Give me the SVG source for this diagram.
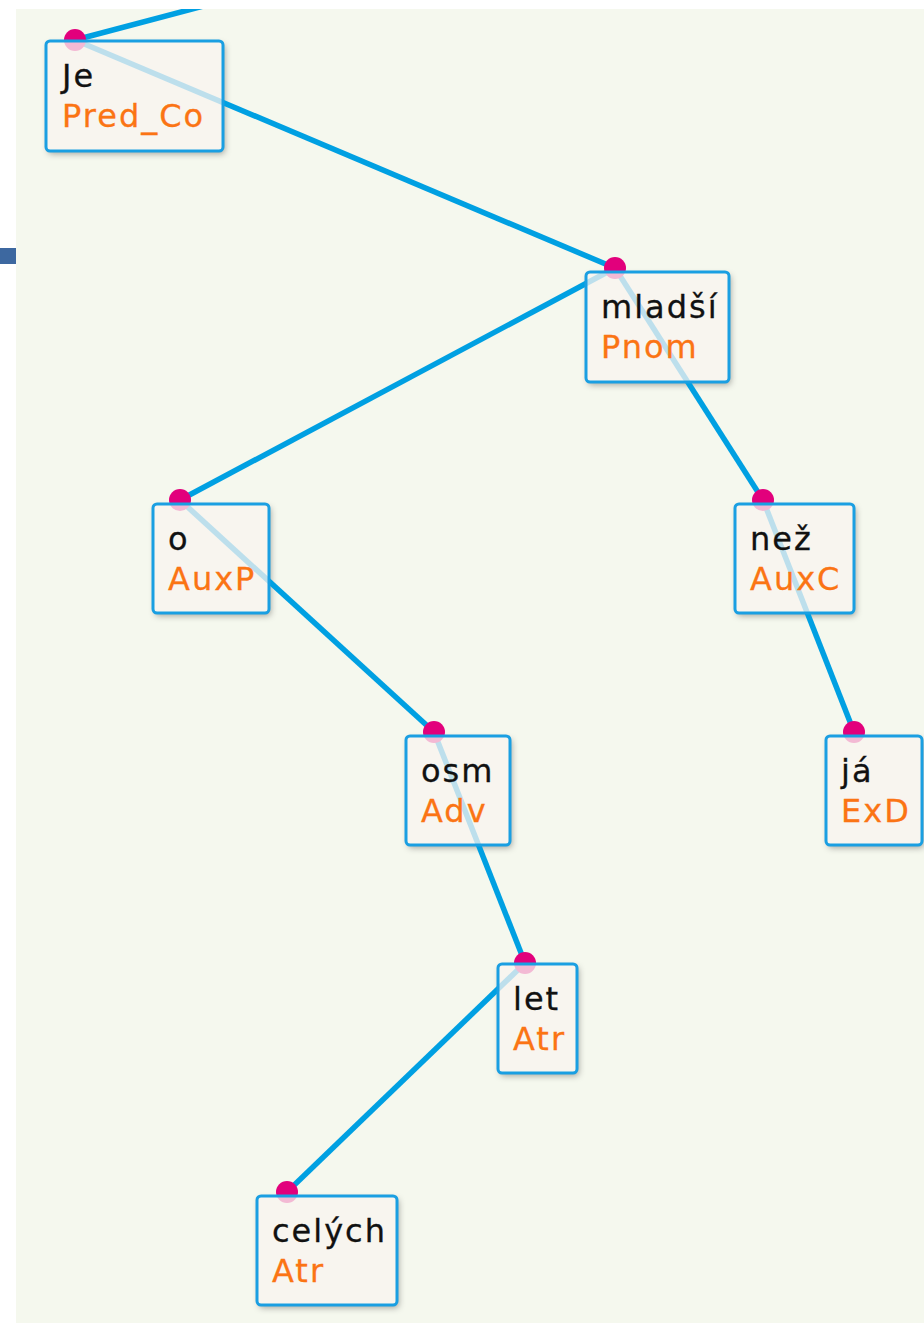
<svg xmlns="http://www.w3.org/2000/svg" width="924" height="1323" viewBox="0 0 924 1323">
  <defs>
    <clipPath id="view"><rect x="16" y="9" width="908" height="1314"/></clipPath>
    <filter id="blur" x="-20%" y="-20%" width="150%" height="150%">
      <feGaussianBlur stdDeviation="3"/>
    </filter>
    <style>
      .bg{fill:#f5f8ee}
      .edge{stroke:#00a0e2;stroke-width:5.5;fill:none;stroke-linecap:butt}
      .dot{fill:#e2007c}
      .shadow{fill:#000;fill-opacity:0.32;filter:url(#blur)}
      .box{fill:#f8f3ef;fill-opacity:0.76;stroke:#1a9fe2;stroke-width:3}
      .form{font-family:"DejaVu Sans","Noto Sans",sans-serif;font-size:32px;fill:#111;stroke:#111;stroke-width:0.3;letter-spacing:2px}
      .afun{font-family:"DejaVu Sans","Noto Sans",sans-serif;font-size:32px;fill:#fb7414;stroke:#fb7414;stroke-width:0.3;letter-spacing:2px}
    </style>
  </defs>
  <rect width="924" height="1323" fill="#ffffff"/>
  <rect x="0" y="248" width="16" height="16" fill="#3d68a0"/>
  <g clip-path="url(#view)">
    <rect class="bg" x="16" y="9" width="908" height="1314"/>
    <g id="shadows">
      <rect class="shadow" x="48" y="44" width="177" height="110" rx="4"/>
      <rect class="shadow" x="588" y="275" width="143" height="110" rx="4"/>
      <rect class="shadow" x="155" y="507" width="116" height="109" rx="4"/>
      <rect class="shadow" x="737" y="507" width="119" height="109" rx="4"/>
      <rect class="shadow" x="408" y="739" width="104" height="109" rx="4"/>
      <rect class="shadow" x="828" y="739" width="96" height="109" rx="4"/>
      <rect class="shadow" x="500" y="967" width="79" height="109" rx="4"/>
      <rect class="shadow" x="259" y="1199" width="140" height="109" rx="4"/>
    </g>
    <g id="cover">
      <rect class="bg" x="46" y="41" width="177" height="110" rx="4"/>
      <rect class="bg" x="586" y="272" width="143" height="110" rx="4"/>
      <rect class="bg" x="153" y="504" width="116" height="109" rx="4"/>
      <rect class="bg" x="735" y="504" width="119" height="109" rx="4"/>
      <rect class="bg" x="406" y="736" width="104" height="109" rx="4"/>
      <rect class="bg" x="826" y="736" width="96" height="109" rx="4"/>
      <rect class="bg" x="498" y="964" width="79" height="109" rx="4"/>
      <rect class="bg" x="257" y="1196" width="140" height="109" rx="4"/>
    </g>
    <g id="connectors">
      <line class="edge" x1="75" y1="40" x2="230" y2="-1"/>
      <line class="edge" x1="75" y1="40" x2="615" y2="268"/>
      <line class="edge" x1="615" y1="268" x2="180" y2="500"/>
      <line class="edge" x1="615" y1="268" x2="763" y2="500"/>
      <line class="edge" x1="180" y1="500" x2="434" y2="732"/>
      <line class="edge" x1="434" y1="732" x2="525" y2="963"/>
      <line class="edge" x1="525" y1="963" x2="287" y2="1192"/>
      <line class="edge" x1="763" y1="500" x2="854" y2="732"/>
    </g>
    <g id="dots">
      <circle class="dot" cx="75" cy="40" r="11"/>
      <circle class="dot" cx="615" cy="268" r="11"/>
      <circle class="dot" cx="180" cy="500" r="11"/>
      <circle class="dot" cx="763" cy="500" r="11"/>
      <circle class="dot" cx="434" cy="732" r="11"/>
      <circle class="dot" cx="854" cy="732" r="11"/>
      <circle class="dot" cx="525" cy="963" r="11"/>
      <circle class="dot" cx="287" cy="1192" r="11"/>
    </g>
    <g id="node-je">
      <rect class="box" x="46" y="41" width="177" height="110" rx="4"/>
      <text class="form" x="62" y="87">Je</text>
      <text class="afun" x="62" y="127">Pred_Co</text>
    </g>
    <g id="node-mladsi">
      <rect class="box" x="586" y="272" width="143" height="110" rx="4"/>
      <text class="form" x="601" y="318">mladší</text>
      <text class="afun" x="601" y="358">Pnom</text>
    </g>
    <g id="node-o">
      <rect class="box" x="153" y="504" width="116" height="109" rx="4"/>
      <text class="form" x="168" y="550">o</text>
      <text class="afun" x="168" y="590">AuxP</text>
    </g>
    <g id="node-nez">
      <rect class="box" x="735" y="504" width="119" height="109" rx="4"/>
      <text class="form" x="750" y="550">než</text>
      <text class="afun" x="750" y="590">AuxC</text>
    </g>
    <g id="node-osm">
      <rect class="box" x="406" y="736" width="104" height="109" rx="4"/>
      <text class="form" x="421" y="782">osm</text>
      <text class="afun" x="421" y="822">Adv</text>
    </g>
    <g id="node-ja">
      <rect class="box" x="826" y="736" width="96" height="109" rx="4"/>
      <text class="form" x="841" y="782">já</text>
      <text class="afun" x="841" y="822">ExD</text>
    </g>
    <g id="node-let">
      <rect class="box" x="498" y="964" width="79" height="109" rx="4"/>
      <text class="form" x="513" y="1010">let</text>
      <text class="afun" x="513" y="1050">Atr</text>
    </g>
    <g id="node-celych">
      <rect class="box" x="257" y="1196" width="140" height="109" rx="4"/>
      <text class="form" x="272" y="1242">celých</text>
      <text class="afun" x="272" y="1282">Atr</text>
    </g>
  </g>
</svg>
